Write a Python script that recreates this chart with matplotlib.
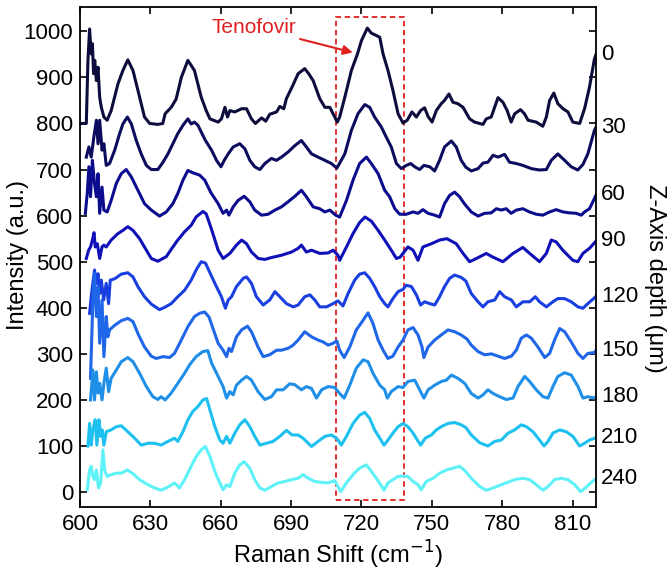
import numpy as np
import matplotlib
matplotlib.use("Agg")
import matplotlib.pyplot as plt
from matplotlib.patches import Rectangle

plt.rcParams['font.family'] = ['Liberation Sans', 'DejaVu Sans']

# depth labels (um), vertical offsets and colours of the stacked spectra
depths = [0, 30, 60, 90, 120, 150, 180, 210, 240]
offsets = [800, 700, 600, 500, 400, 300, 200, 100, 0]
colors = ['#0d0d3d', '#0c0c5e', '#0c0c8e', '#1010b8', '#1a3fe0',
          '#1f66e8', '#1f8fe8', '#1ec0f0', '#5ef2f8']

# spectra: Raman shift (cm-1) and intensity above offset (a.u.)
x0 = [600.6, 602.7, 603.4, 604.1, 604.8, 605.3, 605.8, 606.3, 607.0, 607.7, 608.4, 609.1, 610.2, 611.6, 613.3,
      616.2, 618.3, 620.4, 622.6, 624.7, 627.5, 629.7, 633.2, 635.3, 636.3, 638.9, 641.0, 643.2, 646.0, 648.8,
      651.7, 653.8, 655.4, 658.9, 660.3, 661.8, 662.9, 663.9, 666.0, 668.9, 671.0, 673.1, 674.8, 677.4, 679.2,
      680.9, 683.8, 685.2, 686.9, 688.0, 690.4, 693.0, 695.8, 697.5, 699.4, 702.2, 704.4, 706.5, 707.9, 709.7,
      710.7, 712.9, 715.7, 718.3, 720.0, 722.5, 724.2, 726.3, 727.8, 729.2, 731.3, 733.4, 735.6, 737.7, 739.5,
      741.5, 743.4, 745.2, 746.9, 748.4, 750.1, 751.9, 754.0, 755.4, 757.3, 759.0, 761.1, 763.3, 766.1, 768.2,
      771.8, 773.2, 775.3, 778.2, 780.3, 782.1, 783.8, 785.3, 787.8, 789.5, 791.0, 794.5, 797.3, 798.8, 800.2,
      802.0, 803.7, 805.9, 808.0, 810.1, 813.0, 815.1, 817.2, 819.3, 820.0]
y0 = [0, 0, 137, 205, 151, 173, 108, 137, 93, 122, 57, 35, 14, 7, 28,
      86, 115, 138, 115, 72, 14, 0, -2, 0, 21, 35, 53, 100, 137, 115,
      57, 28, 10, 3, 10, 35, 14, 28, 25, 32, 32, 10, 0, 12, 5,
      20, 25, 37, 32, 54, 79, 108, 119, 108, 93, 54, 35, 35, 21, 3,
      14, 57, 115, 151, 180, 207, 196, 191, 187, 151, 115, 72, 21, 1, 7,
      25, 14, 28, 34, 15, 3, 28, 43, 50, 64, 46, 43, 35, 10, 3,
      -2, 10, 14, 56, 46, 28, 3, 21, 30, 21, 7, 3, -6, 14, 50,
      66, 43, 32, 25, 3, 0, 32, 79, 140, 150]

x1 = [602.7, 603.8, 604.8, 605.9, 607.0, 607.7, 608.4, 609.4, 610.2, 611.2, 612.6, 614.8, 616.9, 618.3, 620.2,
      621.9, 624.0, 626.1, 628.3, 630.4, 633.2, 635.4, 637.5, 639.6, 641.7, 643.9, 646.0, 647.4, 648.8, 650.3,
      652.4, 653.5, 656.1, 658.2, 660.1, 661.5, 663.2, 665.3, 668.1, 670.3, 672.4, 674.5, 676.7, 678.8, 681.6,
      683.8, 685.9, 688.7, 691.6, 694.4, 696.5, 698.7, 701.5, 704.4, 707.2, 709.5, 712.9, 715.7, 718.5, 721.4,
      723.5, 725.6, 728.5, 730.6, 732.7, 734.9, 737.0, 739.1, 741.0, 742.7, 744.8, 746.6, 749.1, 751.2, 753.3,
      755.4, 758.3, 760.4, 762.5, 764.5, 766.8, 769.7, 771.8, 773.9, 776.1, 778.2, 781.0, 783.1, 786.0, 788.8,
      792.4, 795.9, 798.8, 800.9, 803.7, 806.6, 809.4, 812.2, 814.4, 816.5, 819.3, 820.0]
y1 = [27, 49, 27, 70, 107, 56, 107, 42, 56, 9, 13, 42, 78, 99, 114,
      99, 63, 34, 9, 0, 0, 16, 34, 56, 78, 96, 110, 99, 103, 96,
      74, 63, 42, 20, 6, 20, 34, 49, 56, 45, 20, 6, 0, 13, 24,
      20, 27, 38, 52, 63, 49, 34, 27, 20, 13, 3, 34, 85, 121, 141,
      135, 114, 92, 70, 49, 13, 2, 9, 13, 6, 0, 9, 6, -3, 20,
      49, 62, 49, 20, 5, -3, 2, 14, 16, 31, 27, 33, 16, 13, 9,
      2, -1, 0, 20, 34, 20, 6, -1, 11, 34, 85, 92]

x2 = [602.3, 603.1, 603.8, 604.5, 605.3, 606.2, 607.0, 607.7, 608.4, 609.4, 610.2, 611.6, 613.3, 615.5, 617.6,
      619.7, 621.9, 624.7, 627.5, 630.4, 633.9, 636.8, 639.6, 641.7, 643.9, 646.0, 648.1, 651.0, 653.2, 655.8,
      658.9, 661.0, 662.5, 663.5, 665.3, 667.4, 670.0, 672.4, 674.5, 677.4, 680.2, 683.1, 685.9, 688.7, 691.6,
      694.4, 696.5, 699.4, 702.2, 704.4, 706.5, 709.0, 710.7, 713.6, 716.4, 719.2, 722.1, 724.2, 727.1, 729.9,
      732.0, 734.2, 736.3, 739.1, 742.0, 744.1, 746.2, 748.4, 751.2, 753.3, 755.4, 757.6, 759.7, 761.8, 764.0,
      766.8, 769.7, 772.5, 775.3, 777.5, 779.6, 781.7, 783.8, 786.0, 788.8, 791.6, 794.5, 797.3, 800.2, 803.0,
      805.9, 808.7, 811.5, 813.7, 815.1, 817.2, 819.3, 820.0]
y2 = [5, 48, 106, 41, 120, 70, 41, 91, 5, 62, 12, 8, 33, 70, 91,
      100, 84, 55, 26, 12, -1, 8, 26, 48, 77, 98, 93, 88, 77, 50,
      26, 5, 12, 1, 19, 33, 42, 30, 12, 1, 3, 12, 19, 30, 42,
      55, 41, 19, 15, 8, 12, 1, -3, 33, 77, 113, 127, 113, 91, 55,
      41, 15, 3, 3, 8, 5, 13, 5, 1, -3, 26, 44, 51, 41, 25,
      8, -1, 5, 6, 15, 12, 15, 5, 12, 15, 8, 3, 1, 8, 13,
      8, 6, 5, 1, 8, 15, 37, 45]

x3 = [602.7, 603.7, 604.5, 605.3, 606.0, 606.5, 607.4, 608.4, 609.4, 610.2, 611.2, 613.3, 616.2, 618.3, 620.4,
      622.6, 625.4, 628.3, 630.4, 633.2, 636.8, 639.6, 641.7, 644.6, 647.4, 649.5, 652.4, 653.8, 656.1, 658.9,
      661.0, 663.9, 666.7, 668.9, 671.0, 673.1, 676.0, 678.8, 681.6, 685.9, 690.2, 693.0, 694.4, 696.5, 698.7,
      702.2, 705.8, 707.9, 710.0, 710.7, 713.6, 716.4, 719.2, 721.5, 724.2, 727.1, 729.9, 732.7, 734.9, 736.5,
      737.7, 739.8, 742.0, 744.1, 746.2, 749.8, 753.3, 756.4, 760.4, 763.3, 766.1, 769.0, 773.2, 776.0, 780.3,
      784.6, 788.8, 791.7, 795.9, 798.8, 800.9, 803.0, 805.8, 810.1, 812.2, 814.4, 817.2, 819.3, 820.0]
y3 = [7, 25, 32, 47, 63, 32, 39, 7, 32, 36, 32, 47, 61, 68, 76,
      68, 50, 25, 7, 1, 11, 32, 47, 65, 79, 97, 109, 104, 70, 25,
      7, 18, 36, 47, 39, 21, 7, 5, 9, 14, 21, 29, 36, 21, 25,
      18, 19, 25, 14, 3, 32, 61, 85, 97, 88, 68, 47, 25, 7, 10,
      18, 32, 25, 3, 32, 39, 47, 50, 39, 18, 0, 7, 18, 10, 0,
      18, 31, 18, 0, 18, 47, 43, 25, 3, 0, 18, 29, 41, 45]

x4 = [604.1, 605.1, 606.2, 607.0, 607.7, 608.4, 609.1, 610.1, 611.2, 612.2, 612.9, 614.8, 617.6, 620.4, 622.6,
      624.7, 627.5, 630.4, 633.9, 636.1, 638.9, 641.7, 644.6, 647.4, 649.5, 651.7, 653.5, 657.5, 660.3, 662.0,
      663.2, 664.6, 666.7, 669.6, 671.0, 673.1, 675.2, 678.1, 680.9, 683.1, 685.2, 688.0, 690.9, 693.0, 695.8,
      698.0, 700.1, 702.2, 705.1, 707.9, 710.0, 712.1, 714.3, 717.1, 719.2, 721.4, 723.5, 725.6, 727.8, 729.9,
      731.3, 733.4, 735.6, 737.7, 739.1, 741.3, 743.4, 745.2, 746.9, 749.1, 751.2, 753.3, 755.4, 757.6, 759.7,
      762.5, 764.5, 766.8, 769.7, 771.8, 773.9, 776.8, 778.9, 781.0, 783.9, 786.0, 788.8, 791.7, 794.1, 795.9,
      798.8, 801.6, 803.7, 806.6, 809.4, 812.3, 814.4, 816.5, 819.4, 820.0]
y4 = [-12, 38, 82, 53, 74, 31, 60, 17, 53, 9, 60, 63, 73, 76, 67,
      46, 24, 8, -4, 1, 9, 24, 38, 60, 82, 100, 97, 53, 24, -1,
      17, 24, 46, 64, 67, 53, 24, 6, 17, 35, 24, 9, 2, 6, 24,
      28, 17, 2, 2, 9, 15, 4, 31, 60, 73, 76, 64, 46, 24, 9,
      2, 20, 35, 40, 49, 46, 28, 6, 13, 9, 6, 24, 46, 64, 71,
      66, 58, 31, 13, 2, 13, 17, 35, 24, 17, 2, 13, 13, 24, 13,
      2, 13, 20, 20, 13, 2, -1, 9, 22, 25]

x5 = [604.5, 605.5, 606.2, 607.0, 607.7, 608.4, 609.4, 610.2, 611.2, 611.9, 612.6, 614.8, 617.6, 620.4, 622.6,
      624.7, 627.5, 630.4, 632.5, 635.4, 638.2, 640.3, 643.2, 646.0, 648.8, 651.0, 653.1, 655.0, 656.5, 658.9,
      661.0, 662.5, 663.5, 664.6, 666.7, 668.9, 671.4, 673.1, 675.9, 678.1, 680.9, 683.8, 685.9, 688.7, 690.9,
      693.0, 695.8, 698.7, 701.5, 703.6, 705.8, 707.9, 709.5, 710.7, 712.6, 715.0, 717.8, 720.7, 722.8, 724.9,
      727.1, 729.2, 731.3, 733.4, 735.6, 737.7, 739.8, 742.0, 744.1, 745.8, 746.6, 748.4, 751.2, 754.0, 756.9,
      759.7, 762.5, 765.0, 766.8, 769.7, 772.5, 775.4, 778.2, 781.0, 783.9, 786.0, 788.1, 790.3, 792.4, 795.2,
      798.1, 800.2, 802.3, 804.5, 806.6, 809.4, 812.3, 814.4, 816.5, 819.4, 820.0]
y5 = [-53, 117, 174, 81, 145, 23, 117, -6, 81, 37, 52, 62, 72, 77, 70,
      44, 15, -5, -10, -6, -8, 1, 30, 59, 81, 88, 91, 80, 58, 23,
      8, -6, 12, 5, 37, 52, 60, 48, 15, -6, -2, 8, 8, 12, 19,
      30, 48, 37, 30, 26, 19, 23, 28, 8, -8, 15, 52, 73, 89, 66,
      30, 8, -10, -5, 15, 30, 52, 57, 41, 15, -8, 15, 30, 41, 52,
      48, 41, 32, 19, 5, -2, 0, -5, -10, -5, 8, 34, 41, 34, 15,
      -8, 1, 30, 55, 48, 26, 1, -10, 1, 3, 8]

x6 = [604.5, 605.5, 606.2, 607.0, 607.7, 608.4, 609.4, 610.2, 611.2, 612.2, 613.3, 615.5, 617.6, 620.4, 622.6,
      625.4, 628.3, 631.1, 633.2, 634.6, 636.3, 638.9, 641.7, 644.6, 646.7, 649.5, 652.4, 654.5, 656.1, 658.9,
      661.0, 662.5, 663.9, 665.3, 666.7, 668.9, 671.0, 673.1, 675.9, 678.8, 681.6, 683.8, 686.6, 689.4, 691.6,
      694.4, 696.5, 698.7, 700.8, 703.0, 705.8, 708.6, 710.7, 712.6, 715.0, 717.8, 720.7, 722.8, 724.9, 727.8,
      729.9, 731.0, 732.7, 735.6, 737.7, 739.8, 742.7, 744.8, 746.6, 748.4, 751.2, 754.0, 756.2, 758.3, 761.1,
      764.0, 766.8, 769.7, 771.8, 773.9, 776.1, 778.9, 781.7, 784.6, 786.7, 789.6, 791.7, 794.5, 797.4, 799.5,
      801.6, 803.7, 806.6, 809.4, 812.3, 814.4, 816.5, 819.4, 820.0]
y6 = [0, 65, 0, 61, 15, 36, 0, 36, 69, 18, 47, 65, 83, 92, 83,
      58, 29, 7, 1, 7, 0, 15, 36, 58, 76, 94, 105, 107, 80, 51,
      29, 4, 18, 11, 32, 43, 51, 43, 18, 1, 7, 22, 22, 35, 33,
      22, 29, 25, 4, 22, 29, 27, 14, 4, 32, 69, 87, 83, 58, 32,
      22, 4, 18, 29, 27, 40, 43, 22, 4, 22, 32, 40, 43, 54, 47,
      36, 14, 4, 11, 22, 14, 7, 1, 4, 29, 51, 40, 22, 7, 4,
      29, 51, 59, 54, 29, 4, 7, 4, 8]

x7 = [603.4, 604.1, 604.8, 605.5, 606.5, 607.2, 608.1, 608.8, 609.5, 610.2, 611.2, 613.3, 615.5, 617.6, 620.4,
      623.3, 626.1, 629.0, 631.8, 634.6, 637.5, 640.3, 641.7, 643.9, 646.0, 648.1, 650.3, 652.4, 654.0, 655.4,
      657.5, 659.6, 661.0, 662.5, 663.9, 666.0, 668.1, 670.3, 672.4, 674.5, 676.7, 679.5, 682.3, 685.2, 688.0,
      690.4, 693.0, 695.1, 697.3, 698.7, 701.5, 704.4, 707.2, 709.3, 710.0, 711.4, 713.6, 716.4, 719.2, 721.4,
      723.5, 725.6, 727.8, 729.6, 731.3, 733.4, 735.6, 737.7, 739.8, 742.0, 743.8, 745.2, 747.2, 749.8, 751.9,
      754.0, 756.9, 759.7, 762.5, 764.5, 766.8, 770.4, 773.9, 776.8, 779.6, 782.5, 785.3, 788.1, 790.3, 793.1,
      795.9, 797.8, 799.5, 801.6, 804.5, 807.3, 810.1, 813.0, 815.1, 817.2, 819.4, 820.0]
y7 = [0, 49, 2, 35, 57, 2, 57, 21, 35, 2, 31, 35, 42, 44, 31,
      17, 2, 6, 6, 2, 10, 17, 10, 31, 57, 75, 86, 100, 103, 78,
      42, 13, 6, 21, 6, 28, 46, 57, 42, 21, 2, 6, 10, 21, 34,
      24, 24, 17, 6, -1, 10, 21, 24, 17, 13, 2, 21, 49, 67, 73,
      60, 35, 17, 2, 13, 28, 42, 49, 42, 28, 13, 2, 17, 24, 35,
      42, 49, 51, 46, 40, 24, 7, 0, 10, 13, 28, 35, 46, 42, 31,
      13, 0, 10, 28, 35, 31, 21, 0, 6, 13, 17, 19]

x8 = [603.1, 604.1, 604.8, 605.5, 606.2, 607.0, 607.9, 608.8, 609.8, 610.5, 611.6, 613.3, 615.5, 617.6, 620.2,
      622.6, 625.4, 629.0, 631.8, 634.6, 637.5, 640.3, 642.4, 644.6, 647.4, 649.5, 651.7, 653.5, 655.4, 657.5,
      659.6, 661.0, 662.5, 663.9, 666.0, 668.1, 670.0, 672.4, 674.5, 676.7, 678.8, 681.6, 684.5, 687.3, 690.2,
      693.0, 695.1, 697.3, 700.1, 703.0, 705.8, 708.6, 710.0, 711.2, 713.6, 716.4, 719.2, 722.1, 724.2, 726.3,
      728.2, 729.6, 731.3, 733.4, 735.6, 737.7, 739.8, 742.0, 744.1, 745.5, 747.6, 750.5, 753.3, 756.2, 759.0,
      761.8, 764.0, 766.8, 770.4, 773.2, 776.1, 779.6, 783.2, 786.0, 788.8, 791.7, 794.5, 797.4, 799.5, 802.3,
      805.2, 808.0, 810.9, 813.4, 815.4, 817.7, 819.4, 820.0]
y8 = [5, 48, 56, 34, 27, 48, 9, 20, 92, 48, 34, 38, 41, 41, 48,
      40, 27, 16, 9, 4, 11, 20, 9, 27, 56, 77, 92, 99, 77, 45,
      20, 5, 16, 12, 41, 59, 66, 52, 27, 9, 4, 12, 20, 23, 27,
      30, 38, 30, 23, 21, 20, 25, 12, 1, 20, 38, 52, 59, 45, 30,
      16, 4, 20, 27, 34, 35, 34, 23, 16, 5, 23, 30, 41, 48, 52,
      56, 47, 30, 12, 4, 9, 16, 23, 28, 30, 27, 16, 4, 12, 27,
      30, 27, 16, 1, 9, 20, 27, 29]

xs = [x0, x1, x2, x3, x4, x5, x6, x7, x8]
ys = [y0, y1, y2, y3, y4, y5, y6, y7, y8]

fig = plt.figure(figsize=(6.72, 5.74), dpi=100)
ax = fig.add_axes([0.119, 0.117, 0.768, 0.871])

for x, y, off, c, d in zip(xs, ys, offsets, colors, depths):
    yy = np.array(y) + off
    ax.plot(x, yy, color=c, lw=2.2, solid_joinstyle='round')
    ax.text(822.0, yy[-1], str(d), ha='left', va='center', fontsize=16, clip_on=False)

# Tenofovir band
ax.add_patch(Rectangle((709, -18), 29, 1050, fill=False, ec='#e02020', lw=1.3, ls=(0, (3, 2))))
ax.annotate('Tenofovir', xy=(716.3, 954), xytext=(674, 1009), ha='center', va='center',
            color='#e02020', fontsize=15,
            arrowprops=dict(arrowstyle='-|>', color='#e02020', lw=1.5, mutation_scale=14, shrinkA=1, shrinkB=0))

ax.set_xlim(600, 820)
ax.set_ylim(-32, 1053)
ax.set_xticks(np.arange(600, 811, 30))
ax.set_yticks(np.arange(0, 1001, 100))
ax.tick_params(direction='in', top=True, right=True, length=5, width=1.2, labelsize=16, pad=5)
for s in ax.spines.values():
    s.set_linewidth(1.3)

ax.set_xlabel('Raman Shift (cm$^{-1}$)', fontsize=17, labelpad=3)
fig.text(0.027, 0.556, 'Intensity (a.u.)', rotation=90, ha='center', va='center', fontsize=17)
fig.text(0.975, 0.515, 'Z-Axis depth (μm)', rotation=270, ha='center', va='center', fontsize=17)

plt.savefig('out.png', dpi=100)
